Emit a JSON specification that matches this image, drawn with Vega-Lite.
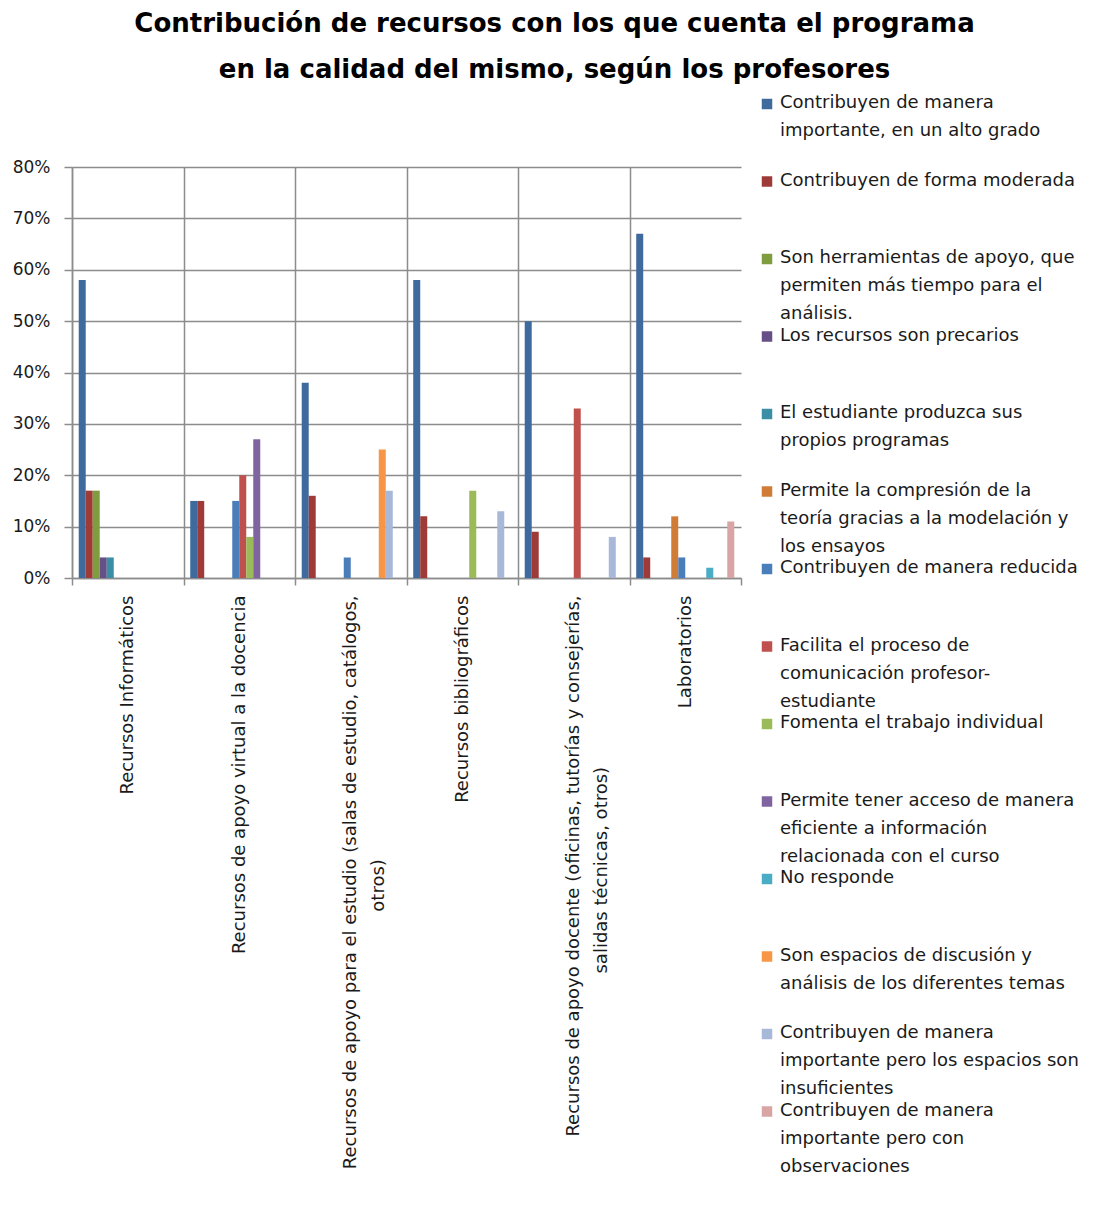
{
  "$schema": "https://vega.github.io/schema/vega-lite/v6.json",
  "autosize": {"type": "none"},
  "padding": {"left": 72, "top": 167, "right": 370, "bottom": 629},
  "width": 669,
  "height": 411,
  "background": "white",
  "title": {
    "text": ["Contribución de recursos con los que cuenta el programa", "en la calidad del mismo, según los profesores"],
    "font": "DejaVu Sans",
    "fontSize": 26,
    "fontWeight": "bold",
    "color": "#000000",
    "anchor": "middle",
    "frame": "group",
    "dx": 148,
    "dy": 97,
    "lineHeight": 46,
    "baseline": "bottom",
    "offset": 83
  },
  "data": {
    "values": [
      {"categoria": "Recursos Informáticos", "serie": "Contribuyen de manera importante, en un alto grado", "valor": 0.58},
      {"categoria": "Recursos Informáticos", "serie": "Contribuyen de forma moderada", "valor": 0.17},
      {"categoria": "Recursos Informáticos", "serie": "Son herramientas de apoyo, que permiten más tiempo para el análisis.", "valor": 0.17},
      {"categoria": "Recursos Informáticos", "serie": "Los recursos son precarios", "valor": 0.04},
      {"categoria": "Recursos Informáticos", "serie": "El estudiante produzca sus propios programas", "valor": 0.04},
      {"categoria": "Recursos de apoyo virtual a la docencia", "serie": "Contribuyen de manera importante, en un alto grado", "valor": 0.15},
      {"categoria": "Recursos de apoyo virtual a la docencia", "serie": "Contribuyen de forma moderada", "valor": 0.15},
      {"categoria": "Recursos de apoyo virtual a la docencia", "serie": "Contribuyen de manera reducida", "valor": 0.15},
      {"categoria": "Recursos de apoyo virtual a la docencia", "serie": "Facilita el proceso de comunicación profesor-estudiante", "valor": 0.20},
      {"categoria": "Recursos de apoyo virtual a la docencia", "serie": "Fomenta el trabajo individual", "valor": 0.08},
      {"categoria": "Recursos de apoyo virtual a la docencia", "serie": "Permite tener acceso de manera eficiente a información relacionada con el curso", "valor": 0.27},
      {"categoria": "Recursos de apoyo para el estudio (salas de estudio, catálogos, otros)", "serie": "Contribuyen de manera importante, en un alto grado", "valor": 0.38},
      {"categoria": "Recursos de apoyo para el estudio (salas de estudio, catálogos, otros)", "serie": "Contribuyen de forma moderada", "valor": 0.16},
      {"categoria": "Recursos de apoyo para el estudio (salas de estudio, catálogos, otros)", "serie": "Contribuyen de manera reducida", "valor": 0.04},
      {"categoria": "Recursos de apoyo para el estudio (salas de estudio, catálogos, otros)", "serie": "Son espacios de discusión y análisis de los diferentes temas", "valor": 0.25},
      {"categoria": "Recursos de apoyo para el estudio (salas de estudio, catálogos, otros)", "serie": "Contribuyen de manera importante pero los espacios son insuficientes", "valor": 0.17},
      {"categoria": "Recursos bibliográficos", "serie": "Contribuyen de manera importante, en un alto grado", "valor": 0.58},
      {"categoria": "Recursos bibliográficos", "serie": "Contribuyen de forma moderada", "valor": 0.12},
      {"categoria": "Recursos bibliográficos", "serie": "Fomenta el trabajo individual", "valor": 0.17},
      {"categoria": "Recursos bibliográficos", "serie": "Contribuyen de manera importante pero los espacios son insuficientes", "valor": 0.13},
      {"categoria": "Recursos de apoyo docente (oficinas, tutorías y consejerías, salidas técnicas, otros)", "serie": "Contribuyen de manera importante, en un alto grado", "valor": 0.50},
      {"categoria": "Recursos de apoyo docente (oficinas, tutorías y consejerías, salidas técnicas, otros)", "serie": "Contribuyen de forma moderada", "valor": 0.09},
      {"categoria": "Recursos de apoyo docente (oficinas, tutorías y consejerías, salidas técnicas, otros)", "serie": "Facilita el proceso de comunicación profesor-estudiante", "valor": 0.33},
      {"categoria": "Recursos de apoyo docente (oficinas, tutorías y consejerías, salidas técnicas, otros)", "serie": "Contribuyen de manera importante pero los espacios son insuficientes", "valor": 0.08},
      {"categoria": "Laboratorios", "serie": "Contribuyen de manera importante, en un alto grado", "valor": 0.67},
      {"categoria": "Laboratorios", "serie": "Contribuyen de forma moderada", "valor": 0.04},
      {"categoria": "Laboratorios", "serie": "Permite la compresión de la teoría gracias a la modelación y los ensayos", "valor": 0.12},
      {"categoria": "Laboratorios", "serie": "Contribuyen de manera reducida", "valor": 0.04},
      {"categoria": "Laboratorios", "serie": "No responde", "valor": 0.02},
      {"categoria": "Laboratorios", "serie": "Contribuyen de manera importante pero con observaciones", "valor": 0.11}
    ]
  },
  "mark": {"type": "bar"},
  "encoding": {
    "x": {
      "field": "categoria",
      "type": "nominal",
      "sort": null,
      "scale": {"paddingInner": 0, "paddingOuter": 0},
      "axis": {
        "title": null,
        "tickBand": "extent",
        "grid": true,
        "gridColor": {"condition": {"test": "datum.value == 'Laboratorios'", "value": "transparent"}, "value": "#8c8c8c"},
        "gridWidth": 1.5,
        "domainColor": "#8c8c8c",
        "domainWidth": 1.5,
        "tickColor": "#8c8c8c",
        "tickWidth": 1.5,
        "tickSize": 7,
        "labelAngle": 270,
        "labelAlign": "right",
        "labelBaseline": "middle",
        "labelPadding": 10,
        "labelFont": "DejaVu Sans",
        "labelFontSize": 18,
        "labelColor": "#1a1a1a",
        "labelLineHeight": 28,
        "labelLimit": 2000,
        "labelOverlap": false,
        "labelExpr": "datum.value == 'Recursos de apoyo para el estudio (salas de estudio, catálogos, otros)' ? ['Recursos de apoyo para el estudio (salas de estudio, catálogos,', 'otros)' + '\u2800\u2800\u2800\u2800\u2800\u2800\u2800\u2800\u2800\u2800\u2800\u2800\u2800\u2800\u2800\u2800\u2800\u2800\u2800\u2800'] : datum.value == 'Recursos de apoyo docente (oficinas, tutorías y consejerías, salidas técnicas, otros)' ? ['Recursos de apoyo docente (oficinas, tutorías y consejerías,', 'salidas técnicas, otros)' + '\u2800\u2800\u2800\u2800\u2800\u2800\u2800\u2800\u2800\u2800\u2800\u2800\u2800'] : datum.value"
      }
    },
    "xOffset": {
      "field": "serie",
      "type": "nominal",
      "scale": {
        "domain": [
          "Contribuyen de manera importante, en un alto grado",
          "Contribuyen de forma moderada",
          "Son herramientas de apoyo, que permiten más tiempo para el análisis.",
          "Los recursos son precarios",
          "El estudiante produzca sus propios programas",
          "Permite la compresión de la teoría gracias a la modelación y los ensayos",
          "Contribuyen de manera reducida",
          "Facilita el proceso de comunicación profesor-estudiante",
          "Fomenta el trabajo individual",
          "Permite tener acceso de manera eficiente a información relacionada con el curso",
          "No responde",
          "Son espacios de discusión y análisis de los diferentes temas",
          "Contribuyen de manera importante pero los espacios son insuficientes",
          "Contribuyen de manera importante pero con observaciones"
        ],
        "paddingInner": 0,
        "paddingOuter": 0.96
      }
    },
    "y": {
      "field": "valor",
      "type": "quantitative",
      "scale": {"domain": [0, 0.8], "nice": false},
      "axis": {
        "title": null,
        "format": ".0%",
        "values": [0, 0.1, 0.2, 0.3, 0.4, 0.5, 0.6, 0.7, 0.8],
        "grid": true,
        "gridColor": "#8c8c8c",
        "gridWidth": 1.5,
        "domainColor": "#8c8c8c",
        "domainWidth": 1.5,
        "tickColor": "#8c8c8c",
        "tickWidth": 1.5,
        "tickSize": 8,
        "labelPadding": 14,
        "labelFont": "DejaVu Sans",
        "labelFontSize": 17,
        "labelColor": "#1a1a1a"
      }
    },
    "color": {
      "field": "serie",
      "type": "nominal",
      "scale": {
        "domain": [
          "Contribuyen de manera importante, en un alto grado",
          "Contribuyen de forma moderada",
          "Son herramientas de apoyo, que permiten más tiempo para el análisis.",
          "Los recursos son precarios",
          "El estudiante produzca sus propios programas",
          "Permite la compresión de la teoría gracias a la modelación y los ensayos",
          "Contribuyen de manera reducida",
          "Facilita el proceso de comunicación profesor-estudiante",
          "Fomenta el trabajo individual",
          "Permite tener acceso de manera eficiente a información relacionada con el curso",
          "No responde",
          "Son espacios de discusión y análisis de los diferentes temas",
          "Contribuyen de manera importante pero los espacios son insuficientes",
          "Contribuyen de manera importante pero con observaciones"
        ],
        "range": ["#3F6A9E", "#9E3B39", "#7F9D3E", "#664E86", "#3A8EA5", "#D07C37", "#4A7EBB", "#C0504D", "#9BBB59", "#8064A2", "#4BACC6", "#F79646", "#A7B8D9", "#D9A4A4"]
      },
      "legend": {
        "title": null,
        "orient": "none",
        "legendX": 686,
        "legendY": -72,
        "padding": 0,
        "symbolType": "square",
        "symbolSize": 110,
        "symbolStrokeWidth": 0,
        "labelOffset": 4,
        "labelFont": "DejaVu Sans",
        "labelFontSize": 18,
        "labelColor": "#1a1a1a",
        "labelBaseline": "top",
        "labelLimit": 400,
        "rowPadding": 3.5,
        "values": [
          "Contribuyen de manera importante, en un alto grado",
          "Contribuyen de forma moderada",
          "Son herramientas de apoyo, que permiten más tiempo para el análisis.",
          "Los recursos son precarios",
          "El estudiante produzca sus propios programas",
          "Permite la compresión de la teoría gracias a la modelación y los ensayos",
          "Contribuyen de manera reducida",
          "Facilita el proceso de comunicación profesor-estudiante",
          "Fomenta el trabajo individual",
          "Permite tener acceso de manera eficiente a información relacionada con el curso",
          "No responde",
          "Son espacios de discusión y análisis de los diferentes temas",
          "Contribuyen de manera importante pero los espacios son insuficientes",
          "Contribuyen de manera importante pero con observaciones"
        ],
        "labelExpr": "datum.label == 'Contribuyen de manera importante, en un alto grado' ? ['Contribuyen de manera', 'importante, en un alto grado', ''] : datum.label == 'Contribuyen de forma moderada' ? ['Contribuyen de forma moderada', '', ''] : datum.label == 'Son herramientas de apoyo, que permiten más tiempo para el análisis.' ? ['Son herramientas de apoyo, que', 'permiten más tiempo para el', 'análisis.'] : datum.label == 'Los recursos son precarios' ? ['Los recursos son precarios', '', ''] : datum.label == 'El estudiante produzca sus propios programas' ? ['El estudiante produzca sus', 'propios programas', ''] : datum.label == 'Permite la compresión de la teoría gracias a la modelación y los ensayos' ? ['Permite la compresión de la', 'teoría gracias a la modelación y', 'los ensayos'] : datum.label == 'Contribuyen de manera reducida' ? ['Contribuyen de manera reducida', '', ''] : datum.label == 'Facilita el proceso de comunicación profesor-estudiante' ? ['Facilita el proceso de', 'comunicación profesor-', 'estudiante'] : datum.label == 'Fomenta el trabajo individual' ? ['Fomenta el trabajo individual', '', ''] : datum.label == 'Permite tener acceso de manera eficiente a información relacionada con el curso' ? ['Permite tener acceso de manera', 'eficiente a información', 'relacionada con el curso'] : datum.label == 'No responde' ? ['No responde', '', ''] : datum.label == 'Son espacios de discusión y análisis de los diferentes temas' ? ['Son espacios de discusión y', 'análisis de los diferentes temas', ''] : datum.label == 'Contribuyen de manera importante pero los espacios son insuficientes' ? ['Contribuyen de manera', 'importante pero los espacios son', 'insuficientes'] : ['Contribuyen de manera', 'importante pero con', 'observaciones']",
        "encode": {
          "labels": {"update": {"lineHeight": {"value": 28}, "dy": {"value": -10}}}
        }
      }
    }
  },
  "config": {
    "view": {"stroke": null}
  }
}
